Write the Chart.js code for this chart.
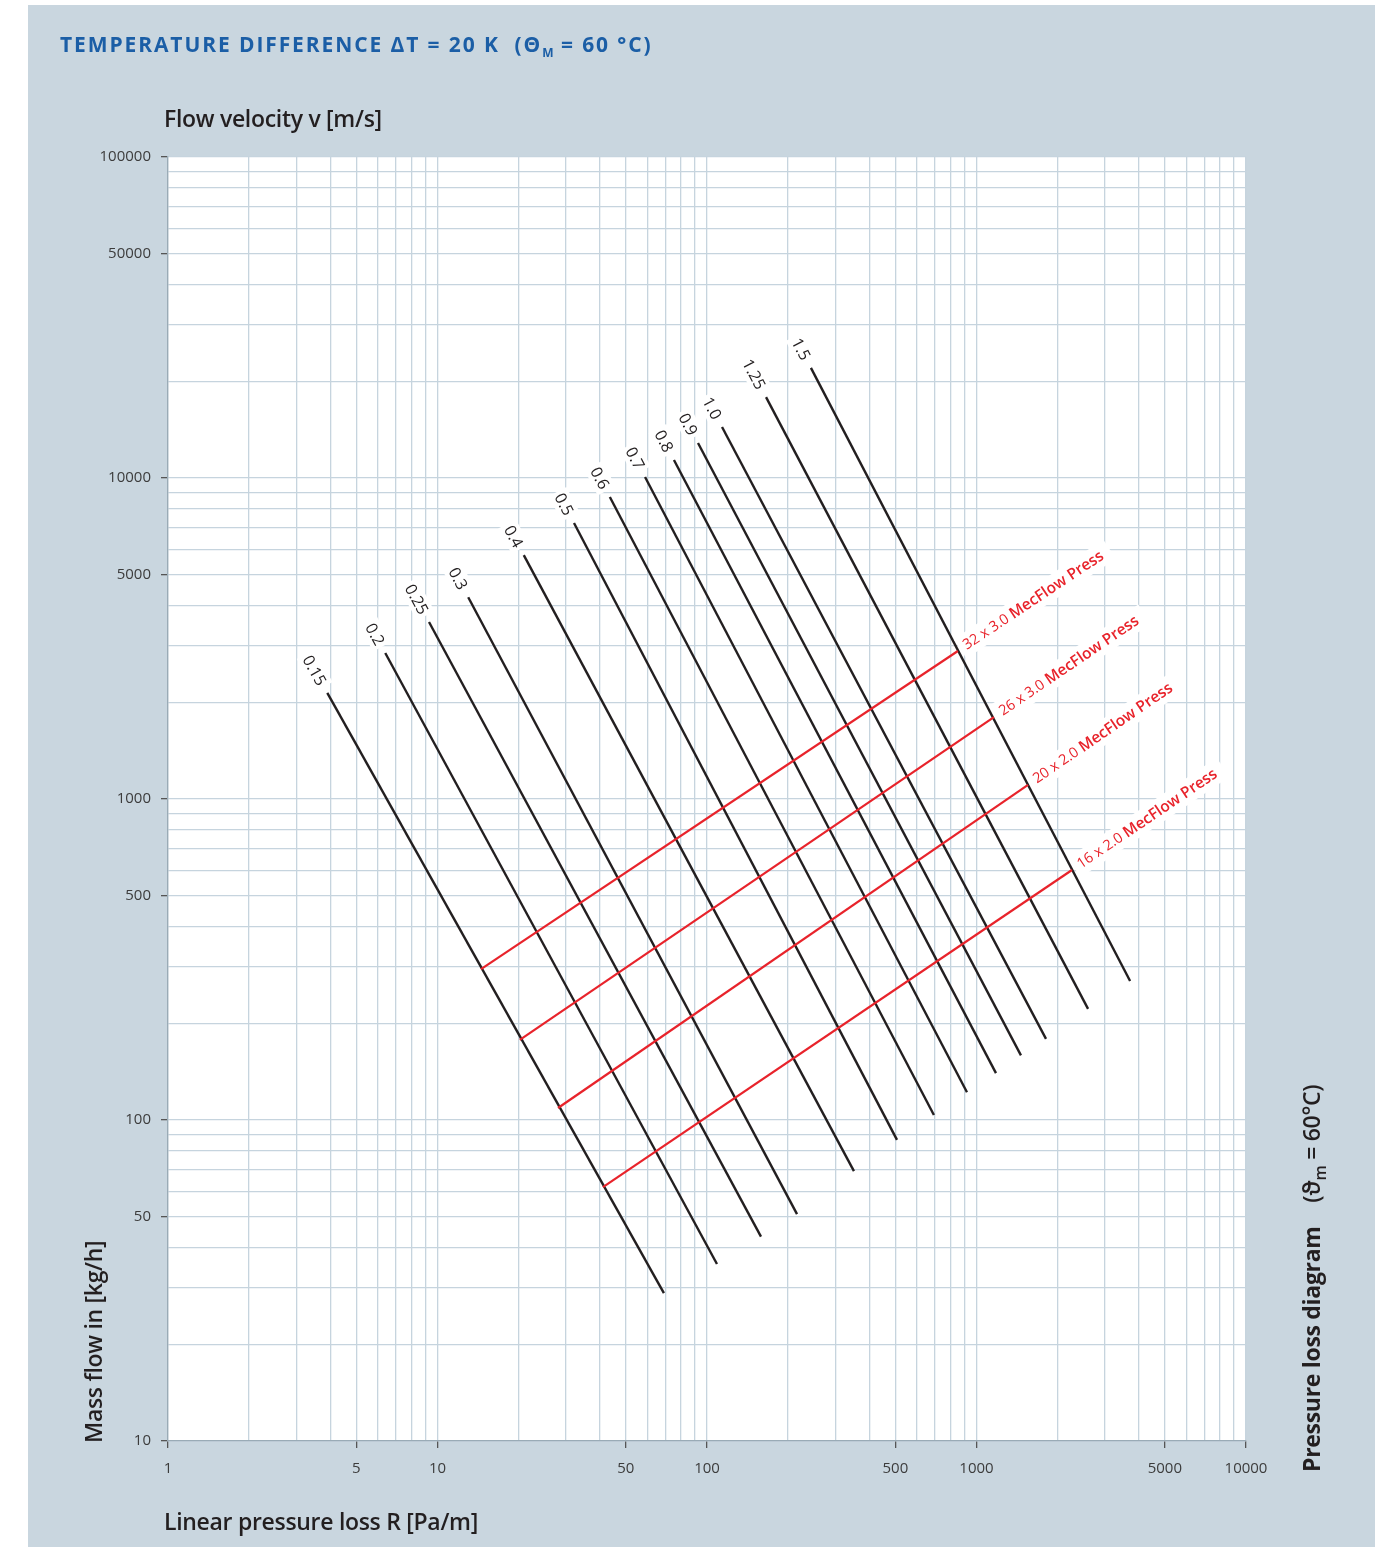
<!DOCTYPE html>
<html>
<head>
<meta charset="utf-8">
<script src="https://cdn.jsdelivr.net/npm/chart.js@4"></script>
<style>
  body { margin: 0; background: #fff; font-family: "Open Sans", sans-serif; }
  #page { position: absolute; left: 28px; top: 5px; width: 1347px; height: 1542px; background: #c9d6df; }
  #chart { position: absolute; left: 0; top: 0; }
  .title { position: absolute; left: 60px; top: 30px; font-weight: 700; font-size: 21px; letter-spacing: 1.9px; color: #1b5ea6; white-space: nowrap; }
  .title sub { font-size: 12px; letter-spacing: 0; }
  .axlabel { position: absolute; font-weight: 600; font-size: 23px; color: #231f20; white-space: nowrap; letter-spacing: -0.3px; }
  .rot { transform-origin: 0 0; transform: rotate(-90deg); }
</style>
</head>
<body>
<div id="page"></div>
<canvas id="chart" width="1389" height="1547"></canvas>
<div class="title">TEMPERATURE DIFFERENCE ΔT = 20 K &nbsp;(Θ<sub>M</sub> = 60 °C)</div>
<div class="axlabel" style="left:164px; top:102px;">Flow velocity v [m/s]</div>
<div class="axlabel" style="left:164px; top:1505px;">Linear pressure loss R [Pa/m]</div>
<div class="axlabel rot" style="left:77px; top:1443px;">Mass flow in [kg/h]</div>
<div class="axlabel rot" style="left:1295px; top:1472px; font-weight:700;">Pressure loss diagram <span style="font-weight:600; margin-left:18px;">(ϑ<sub style="font-size:16px">m</sub> = 60°C)</span></div>
<script>
// velocity lines (R in Pa/m, mass flow in kg/h) - top and bottom ends
const velocities = ['0.15', '0.2', '0.25', '0.3', '0.4', '0.5', '0.6', '0.7', '0.8', '0.9', '1.0', '1.25', '1.5'];
const velStartR = [3.9, 6.4, 9.3, 13.0, 20.9, 32.1, 43.6, 58.9, 75.4, 92.6, 113.7, 165.6, 243];
const velStartM = [2140, 2850, 3560, 4250, 5750, 7240, 8730, 10070, 11380, 12850, 14420, 17870, 22030];
const velEndR = [69.2, 108.9, 158.6, 215.8, 351, 507, 695, 922, 1181, 1462, 1811, 2594, 3715];
const velEndM = [28.9, 35.6, 43.3, 50.9, 69.3, 86.7, 103.7, 122, 140, 159, 179, 222, 271];

// pipe dimension lines
const pipes = ['32 x 3.0', '26 x 3.0', '20 x 2.0', '16 x 2.0'];
const pipeStartR = [14.5, 20.2, 28.0, 41.1];
const pipeStartM = [295, 177.6, 109, 61.8];
const pipeEndR = [853, 1161, 1553, 2261];
const pipeEndM = [2891, 1799, 1106, 601];

// axis ticks
const xLabels = [1, 5, 10, 50, 100, 500, 1000, 5000, 10000];
const yLabels = [10, 50, 100, 500, 1000, 5000, 10000, 50000, 100000];

function logGrid(min, max) {
    const out = [];
    for (let d = min; d < max; d *= 10) {
        for (let k = 1; k < 10; k++) out.push(+(d * k).toPrecision(3));
    }
    out.push(max);
    return out;
}

const datasets = [];
velocities.forEach((v, i) => {
    datasets.push({
        label: v,
        kind: 'vel',
        data: [{ x: velStartR[i], y: velStartM[i] }, { x: velEndR[i], y: velEndM[i] }],
        borderColor: '#231f20',
        borderWidth: 2.4,
        order: 2,
    });
});
pipes.forEach((p, i) => {
    datasets.push({
        label: p,
        kind: 'pipe',
        data: [{ x: pipeStartR[i], y: pipeStartM[i] }, { x: pipeEndR[i], y: pipeEndM[i] }],
        borderColor: '#e8232b',
        borderWidth: 2.2,
        order: 1,
    });
});

const lineLabels = {
    id: 'lineLabels',
    afterDatasetsDraw(chart) {
        const ctx = chart.ctx;
        chart.data.datasets.forEach((ds, i) => {
            const pts = chart.getDatasetMeta(i).data;
            const a = pts[0], b = pts[1];
            ctx.save();
            if (ds.kind === 'vel') {
                const ang = Math.atan2(b.y - a.y, b.x - a.x);
                const ux = Math.cos(ang), uy = Math.sin(ang);
                ctx.font = '16px "Open Sans"';
                const w = ctx.measureText(ds.label).width;
                const off = 10 + w / 2;
                ctx.translate(a.x - ux * off, a.y - uy * off);
                ctx.rotate(ang);
                ctx.fillStyle = '#fff';
                ctx.fillRect(-w / 2 - 3, -10, w + 6, 20);
                ctx.fillStyle = '#231f20';
                ctx.textAlign = 'center';
                ctx.textBaseline = 'middle';
                ctx.fillText(ds.label, 0, 1);
            } else {
                const ang = Math.atan2(b.y - a.y, b.x - a.x);
                ctx.translate(b.x, b.y);
                ctx.rotate(ang);
                ctx.font = '14.5px "Open Sans"';
                const t1 = ds.label + ' ';
                const w1 = ctx.measureText(t1).width;
                ctx.font = '600 15.5px "Open Sans"';
                const t2 = 'MecFlow Press';
                const w2 = ctx.measureText(t2).width;
                ctx.fillStyle = '#fff';
                ctx.fillRect(3, -12, w1 + w2 + 14, 23);
                ctx.fillStyle = '#e8232b';
                ctx.textBaseline = 'middle';
                ctx.font = '14.5px "Open Sans"';
                ctx.fillText(t1, 8, 0);
                ctx.font = '600 15.5px "Open Sans"';
                ctx.fillText(t2, 8 + w1, 0);
            }
            ctx.restore();
        });
    },
};

const plotBg = {
    id: 'plotBg',
    beforeDraw(chart) {
        const { ctx, chartArea: c } = chart;
        ctx.save();
        ctx.fillStyle = '#fff';
        ctx.fillRect(c.left, c.top, c.right - c.left, c.bottom - c.top);
        ctx.restore();
    },
};

function axisOpts(min, max, labels, isX) {
    return {
        type: 'logarithmic',
        min: min,
        max: max,
        afterBuildTicks(scale) {
            scale.ticks = logGrid(min, max).map(v => ({ value: v, major: labels.includes(v) }));
        },
        afterFit(scale) {
            if (isX) scale.height = 106;
            else scale.width = 168;
        },
        grid: {
            color: '#c6d4de',
            lineWidth: 1.3,
            tickLength: 7,
            tickColor: c => (c.tick && labels.includes(c.tick.value) ? '#555' : 'rgba(0,0,0,0)'),
        },
        border: { color: '#9aabb6', width: 1.3 },
        ticks: {
            autoSkip: false,
            maxRotation: 0,
            padding: isX ? 12 : 10,
            color: '#3c3c3c',
            font: { family: '"Open Sans"', size: 15 },
            callback: v => (labels.includes(v) ? String(v) : ''),
        },
    };
}

new Chart(document.getElementById('chart'), {
    type: 'scatter',
    data: { datasets: datasets },
    options: {
        responsive: false,
        animation: false,
        showLine: true,
        layout: { padding: { left: 0, top: 157, right: 143, bottom: 0 } },
        elements: { point: { radius: 0 } },
        plugins: { legend: { display: false }, tooltip: { enabled: false } },
        scales: {
            x: axisOpts(1, 10000, xLabels, true),
            y: axisOpts(10, 100000, yLabels, false),
        },
    },
    plugins: [plotBg, lineLabels],
});
</script>
</body>
</html>
